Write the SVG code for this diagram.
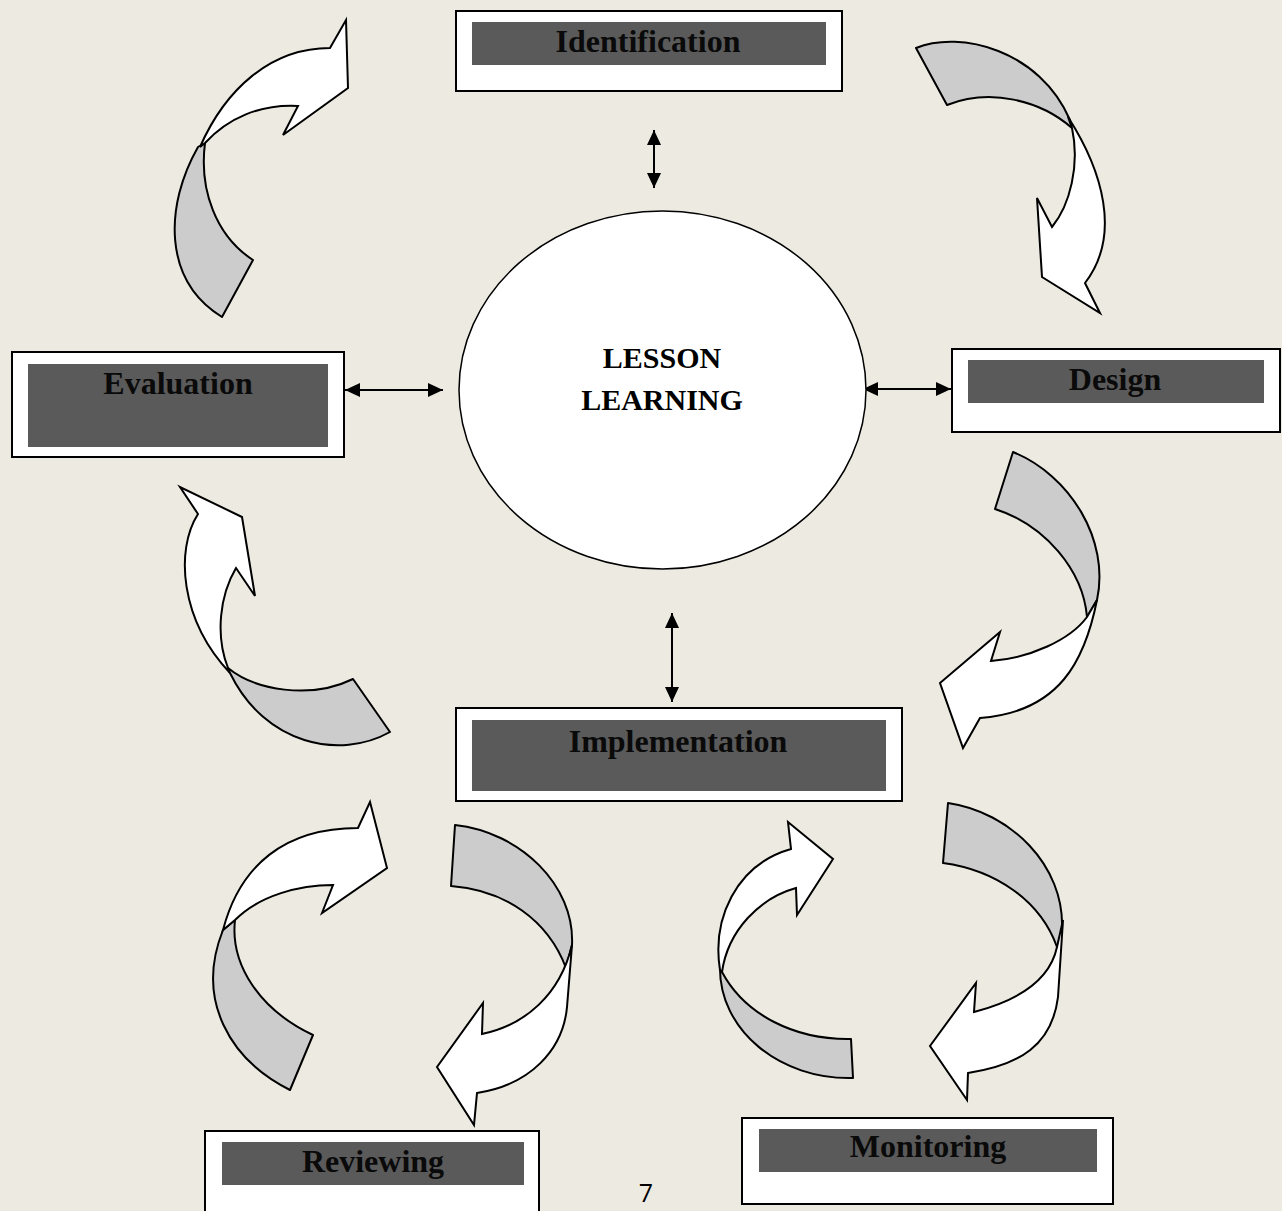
<svg xmlns="http://www.w3.org/2000/svg" width="1282" height="1211" viewBox="0 0 1282 1211">
<style>
.bg{fill:#EDEBE1}
.outer{fill:#FFFFFF;stroke:#000;stroke-width:2}
.inner{fill:#5A5A5A}
.lbl{font-family:"Liberation Serif","Times New Roman",serif;font-weight:bold;font-size:32px;fill:#0A0A0A;text-anchor:middle}
.ctr{font-family:"Liberation Serif","Times New Roman",serif;font-weight:bold;font-size:30px;fill:#000;text-anchor:middle}
.back{fill:#CCCCCC;stroke:#000;stroke-width:2;stroke-linejoin:round}
.front{fill:#FFFFFF;stroke:#000;stroke-width:2;stroke-linejoin:miter}
.link{stroke:#000;stroke-width:2;fill:none;marker-start:url(#ah);marker-end:url(#ah)}
</style>
<defs>
<marker id="ah" markerUnits="userSpaceOnUse" markerWidth="16" markerHeight="16" refX="15" refY="7" orient="auto-start-reverse">
<path d="M0,0 L15,7 L0,14 Z" fill="#000"/>
</marker>
</defs>
<rect class="bg" x="0" y="0" width="1282" height="1211"/>

<g id="cycle-arrows">
<g id="arrow-eval-ident">
<path class="back" d="M253,260 C216,236 199,190 205,143 L198,147 C165,205 162,280 222,317 Z"/>
<path class="front" d="M200,147 C225,90 270,48 330,48 L346,20 L348,88 L283,135 L298,106 C260,104 228,118 205,143 Z"/>
</g>
<g id="arrow-ident-design">
<path class="back" d="M916,48 C960,30 1040,50 1070,120 L1072,128 C1040,100 990,88 947,105 Z"/>
<path class="front" d="M1068,117 C1102,170 1122,235 1085,283 L1100,313 L1042,277 L1037,198 L1052,227 C1070,205 1080,165 1072,128 Z"/>
</g>
<g id="arrow-design-impl">
<path class="back" d="M1013,452 C1070,475 1110,540 1097,600 L1087,617 C1083,570 1045,525 995,509 Z"/>
<path class="front" d="M1097,600 C1085,660 1060,712 980,718 L963,748 L940,683 L1000,632 L991,661 C1030,658 1070,640 1087,617 Z"/>
</g>
<g id="arrow-impl-eval">
<path class="front" d="M198,514 L180,487 L242,517 L255,596 L236,568 C220,595 215,635 228,668 L230,673 C180,620 175,550 198,514 Z"/>
<path class="back" d="M228,668 C255,690 310,700 353,679 L390,732 C340,760 265,745 230,673 Z"/>
</g>
<g id="arrow-review-impl">
<path class="back" d="M235,920 C230,965 260,1010 313,1035 L290,1090 C230,1060 195,1000 223,930 Z"/>
<path class="front" d="M223,930 C240,865 285,828 358,828 L370,802 L387,868 L322,913 L333,885 C300,885 260,895 235,920 Z"/>
</g>
<g id="arrow-impl-review">
<path class="back" d="M455,825 C520,832 575,885 572,945 L566,968 C548,920 505,890 451,886 Z"/>
<path class="front" d="M572,945 L567,1007 C563,1050 530,1085 477,1093 L474,1125 L437,1067 L483,1003 L482,1034 C525,1025 560,995 572,945 Z"/>
</g>
<g id="arrow-monitor-impl">
<path class="back" d="M720,965 C718,1030 780,1080 853,1078 L851,1039 C795,1040 745,1015 722,972 Z"/>
<path class="front" d="M791,849 L788,822 L833,859 L797,915 L796,888 C760,898 728,930 722,972 L720,970 C712,920 735,865 791,849 Z"/>
</g>
<g id="arrow-impl-monitor">
<path class="back" d="M948,803 C1010,812 1065,865 1062,930 L1057,947 C1040,900 995,870 943,863 Z"/>
<path class="front" d="M1063,920 L1058,997 C1052,1045 1020,1065 968,1073 L967,1100 L930,1046 L976,983 L974,1012 C1020,1000 1050,980 1057,947 Z"/>
</g>
</g>

<g id="connectors">
<line class="link" x1="654" y1="130" x2="654" y2="188"/>
<line class="link" x1="345" y1="390" x2="443" y2="390"/>
<line class="link" x1="863" y1="389" x2="951" y2="389"/>
<line class="link" x1="672" y1="613" x2="672" y2="702"/>
</g>

<g id="lesson-learning">
<ellipse cx="662.5" cy="390" rx="203.5" ry="179" fill="#FFFFFF" stroke="#000" stroke-width="1.5"/>
<text class="ctr" x="662" y="368">LESSON</text>
<text class="ctr" x="662" y="410">LEARNING</text>
</g>

<g id="identification">
<rect class="outer" x="456" y="11" width="386" height="80"/>
<rect class="inner" x="472" y="22" width="354" height="43"/>
<text class="lbl" x="648" y="52">Identification</text>
</g>

<g id="design">
<rect class="outer" x="952" y="349" width="328" height="83"/>
<rect class="inner" x="968" y="360" width="296" height="43"/>
<text class="lbl" x="1115" y="390">Design</text>
</g>

<g id="evaluation">
<rect class="outer" x="12" y="352" width="332" height="105"/>
<rect class="inner" x="28" y="364" width="300" height="83"/>
<text class="lbl" x="178" y="394">Evaluation</text>
</g>

<g id="implementation">
<rect class="outer" x="456" y="708" width="446" height="93"/>
<rect class="inner" x="472" y="720" width="414" height="71"/>
<text class="lbl" x="678" y="752">Implementation</text>
</g>

<g id="reviewing">
<rect class="outer" x="205" y="1131" width="334" height="90"/>
<rect class="inner" x="222" y="1142" width="302" height="43"/>
<text class="lbl" x="373" y="1172">Reviewing</text>
</g>

<g id="monitoring">
<rect class="outer" x="742" y="1118" width="371" height="86"/>
<rect class="inner" x="759" y="1129" width="338" height="43"/>
<text class="lbl" x="928" y="1157">Monitoring</text>
</g>

<text x="646" y="1202" font-family="'Open Sans','Noto Sans',sans-serif" font-size="25" fill="#000" text-anchor="middle">7</text>
</svg>
